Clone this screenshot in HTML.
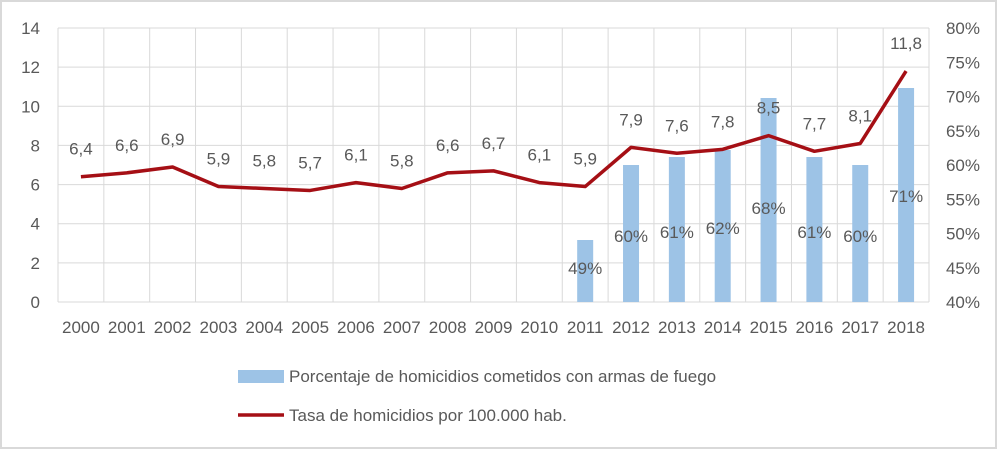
<!DOCTYPE html>
<html><head><meta charset="utf-8"><style>
body{margin:0;background:#fff}
svg{display:block;font-family:"Liberation Sans",sans-serif}
</style></head><body>
<svg width="997" height="449" viewBox="0 0 997 449" xmlns="http://www.w3.org/2000/svg">
<rect x="1" y="1" width="995" height="447" fill="#fff" stroke="#d9d9d9" stroke-width="2"/>
<g id="grid" stroke="#d9d9d9" stroke-width="1"></g>
<g id="bars" fill="#9dc3e6"></g>
<g id="txt" fill="#595959" font-size="17"></g>
<polyline id="ln" fill="none" stroke="#a50f15" stroke-width="3.5" stroke-linejoin="round"/>
<g id="lbl" fill="#595959" font-size="17" text-anchor="middle"></g>
<rect x="238" y="370" width="46" height="13" fill="#9dc3e6"/>
<text x="289" y="382" fill="#595959" font-size="17">Porcentaje de homicidios cometidos con armas de fuego</text>
<line x1="238" y1="415" x2="284" y2="415" stroke="#a50f15" stroke-width="3.5"/>
<text x="289" y="421" fill="#595959" font-size="17">Tasa de homicidios por 100.000 hab.</text>
</svg>
<script>
const ns="http://www.w3.org/2000/svg";
function el(p,t,a,txt){const e=document.createElementNS(ns,t);for(const k in a)e.setAttribute(k,a[k]);if(txt!=null)e.textContent=txt;document.getElementById(p).appendChild(e);return e;}
const L=58,R=929,T=28,B=302,W=(R-L)/19;
for(let i=0;i<=7;i++){const y=B-(B-T)*i/7;el('grid','line',{x1:L,x2:R,y1:y,y2:y});
el('txt','text',{x:40,y:y+6,'text-anchor':'end'},String(i*2));}
for(let i=0;i<=8;i++){const y=B-(B-T)*i/8;el('txt','text',{x:980,y:y+6,'text-anchor':'end'},(40+i*5)+'%');}
for(let i=0;i<=19;i++){const x=L+W*i;el('grid','line',{x1:x,x2:x,y1:T,y2:B});}
for(let i=0;i<19;i++)el('txt','text',{x:L+W*(i+.5),y:333,'text-anchor':'middle'},String(2000+i));
const bt=[240,165,157,150,98,157,165,88],bl=['49%','60%','61%','62%','68%','61%','60%','71%'],by=[268,236,232,228,208,232,236,196];
for(let j=0;j<8;j++){const cx=L+W*(11+j+.5);el('bars','rect',{x:cx-8,y:bt[j],width:16,height:B-bt[j]});
el('lbl','text',{x:cx,y:by[j]+6},bl[j]);}
const v=[6.4,6.6,6.9,5.9,5.8,5.7,6.1,5.8,6.6,6.7,6.1,5.9,7.9,7.6,7.8,8.5,7.7,8.1,11.8];
let pts=[];v.forEach((d,i)=>{const x=L+W*(i+.5),y=B-d*(B-T)/14;pts.push(x+','+y);
el('lbl','text',{x:x,y:y-22},String(d).replace('.',','));});
document.getElementById('ln').setAttribute('points',pts.join(' '));
</script>
</body></html>
